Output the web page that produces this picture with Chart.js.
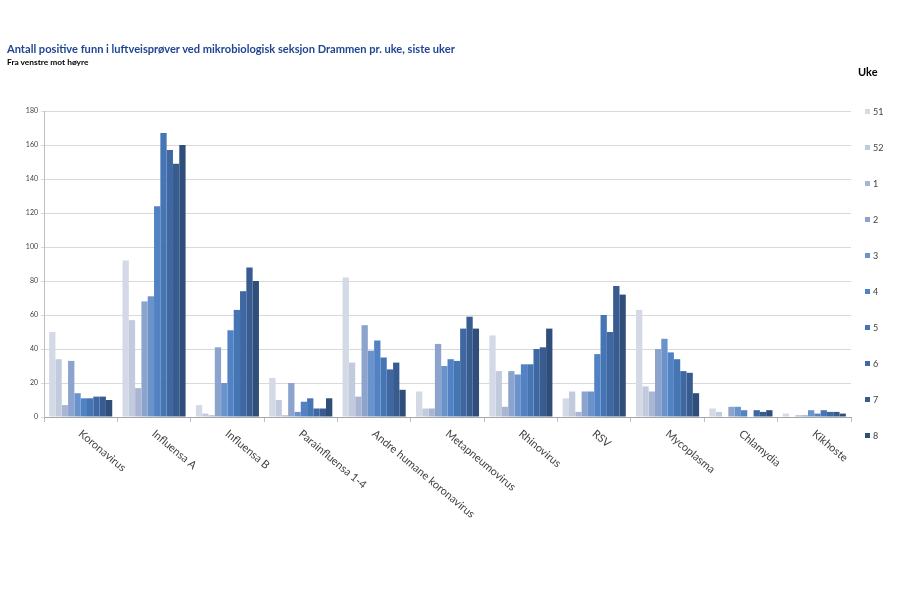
<!DOCTYPE html>
<html>
<head>
<meta charset="utf-8">
<script src="https://cdn.jsdelivr.net/npm/chart.js@4"></script>
<style>
  html, body { margin: 0; padding: 0; background: #fff; }
  body { width: 900px; height: 600px; position: relative; overflow: hidden; font-family: Lato, "Open Sans", sans-serif; }
  #wrap { position: absolute; left: 0; top: 0; width: 900px; height: 600px; }
  #title { position: absolute; left: 7px; top: 42px; font: bold 11.1px Lato, sans-serif; color: #1f4592; white-space: nowrap; }
  #subtitle { position: absolute; left: 7px; top: 57px; font: bold 8.4px Lato, sans-serif; color: #000; white-space: nowrap; }
  #legtitle { position: absolute; left: 858px; top: 65px; font: bold 11px Lato, sans-serif; color: #000; }
  .leg { position: absolute; left: 865px; font: 9px Lato, sans-serif; color: #404040; white-space: nowrap; line-height: 10px; }
  .leg span.box { display: inline-block; width: 5px; height: 5px; margin-right: 3px; vertical-align: 1px; }
</style>
</head>
<body>
<div id="wrap"><canvas id="c" width="900" height="600"></canvas></div>
<div id="title">Antall positive funn i luftveisprøver ved mikrobiologisk seksjon Drammen pr. uke, siste uker</div>
<div id="subtitle">Fra venstre mot høyre</div>
<div id="legtitle">Uke</div>
<div id="legend"></div>
<script>
// Categories (pathogens)
const categories = ["Koronavirus", "Influensa A", "Influensa B", "Parainfluensa 1-4", "Andre humane koronavirus", "Metapneumovirus", "Rhinovirus", "RSV", "Mycoplasma", "Chlamydia", "Kikhoste"];
// Week labels
const weeks = ["51", "52", "1", "2", "3", "4", "5", "6", "7", "8"];
// Series values per week (in category order)
const w51 = [50, 92, 7, 23, 82, 15, 48, 11, 63, 5, 2];
const w52 = [34, 57, 2, 10, 32, 5, 27, 15, 18, 3, 0];
const w1  = [7, 17, 1, 1, 12, 5, 6, 3, 15, 0, 1];
const w2  = [33, 68, 41, 20, 54, 43, 27, 15, 40, 6, 1];
const w3  = [14, 71, 20, 3, 39, 30, 25, 15, 46, 6, 4];
const w4  = [11, 124, 51, 9, 45, 34, 31, 37, 38, 4, 2];
const w5  = [11, 167, 63, 11, 35, 33, 31, 60, 34, 0, 4];
const w6  = [12, 157, 74, 5, 28, 52, 40, 50, 27, 4, 3];
const w7  = [12, 149, 88, 5, 32, 59, 41, 77, 26, 3, 3];
const w8  = [10, 160, 80, 11, 16, 52, 52, 72, 14, 4, 2];
// Y tick values
const yTicks = [0, 20, 40, 60, 80, 100, 120, 140, 160, 180];

const seriesValues = [w51, w52, w1, w2, w3, w4, w5, w6, w7, w8];
const colors = ["#d3d9e5", "#c2cbde", "#a9b5d2", "#8ba3cd", "#6a93cc", "#5282c3", "#4675b4", "#3f68a3", "#385c90", "#2f4e7a"];

// HTML legend
const legend = document.getElementById('legend');
weeks.forEach((w, i) => {
  const d = document.createElement('div');
  d.className = 'leg';
  d.style.top = (107 + i * 36) + 'px';
  d.innerHTML = '<span class="box" style="background:' + colors[i] + '"></span>' + w;
  legend.appendChild(d);
});

const xLabelPlugin = {
  id: 'xLabels',
  afterDraw(chart) {
    const ctx = chart.ctx;
    const xs = chart.scales.x;
    const y0 = chart.chartArea.bottom + 11;
    ctx.save();
    ctx.font = '11px Lato, sans-serif';
    ctx.fillStyle = '#404040';
    ctx.textAlign = 'left';
    ctx.textBaseline = 'top';
    categories.forEach((lab, i) => {
      const x = xs.getPixelForValue(i);
      ctx.save();
      ctx.translate(x + 3, y0);
      ctx.rotate(40 * Math.PI / 180);
      ctx.fillText(lab, 0, 0);
      ctx.restore();
    });
    ctx.restore();
  }
};

new Chart(document.getElementById('c'), {
  type: 'bar',
  data: {
    labels: categories,
    datasets: weeks.map((w, i) => ({
      label: w,
      data: seriesValues[i],
      backgroundColor: colors[i],
      borderWidth: 0,
      categoryPercentage: 0.86,
      barPercentage: 1.0
    }))
  },
  options: {
    responsive: false,
    animation: false,
    layout: { padding: { left: 0, right: 49, top: 111, bottom: 178 } },
    plugins: {
      legend: { display: false },
      title: { display: false },
      tooltip: { enabled: false }
    },
    scales: {
      x: {
        grid: { display: true, drawOnChartArea: false, offset: true, tickLength: 5, color: '#bfbfbf' },
        border: { color: '#a6a6a6' },
        ticks: { display: false },
        afterFit(s) { s.height = 5; }
      },
      y: {
        min: 0, max: 180,
        afterBuildTicks(s) { s.ticks = yTicks.map(v => ({ value: v })); },
        grid: { color: '#d9d9d9', tickLength: 3 },
        border: { color: '#bfbfbf' },
        ticks: { font: { size: 7, family: 'Lato, sans-serif' }, color: '#404040', padding: 3 },
        afterFit(s) { s.width = 44; }
      }
    }
  },
  plugins: [xLabelPlugin]
});
</script>
</body>
</html>
